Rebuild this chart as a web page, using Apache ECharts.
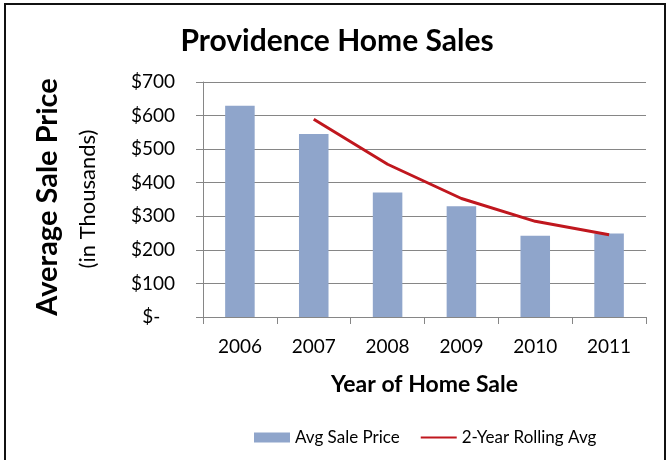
<!DOCTYPE html>
<html><head><meta charset="utf-8">
<script src="https://cdn.jsdelivr.net/npm/echarts@6/dist/echarts.min.js"></script>
<style>html,body{margin:0;padding:0;background:#fff}#c{width:666px;height:460px}</style>
</head><body><div id="c"></div>
<script>
var years = ['2006','2007','2008','2009','2010','2011'];
var avgSalePrice = [629, 545, 371, 330, 242, 249];
var rollingAvg = ['-', 589, 455, 353, 285, 245];
var yTicks = [0, 100, 200, 300, 400, 500, 600, 700];

var FONT = 'Lato';
var chart = echarts.init(document.getElementById('c'), null, {renderer:'canvas'});
chart.setOption({
  backgroundColor: '#fff',
  animation: false,
  textStyle: {fontFamily: FONT},
  title: {
    text: 'Providence Home Sales', left: 332, top: 21, textAlign: 'center',
    textStyle: {fontFamily: FONT, fontWeight: 'bold', fontSize: 30, color: '#000'}
  },
  grid: {left: 203, right: 20, top: 82, bottom: 143, containLabel: false},
  legend: {
    top: 424, left: 249, itemWidth: 36, itemHeight: 10, itemGap: 20,
    textStyle: {fontFamily: FONT, fontSize: 17, color: '#000'},
    data: [
      {name: 'Avg Sale Price', icon: 'rect'},
      {name: '2-Year Rolling Avg', itemStyle: {opacity: 0, borderWidth: 0}}
    ]
  },
  graphic: [
    {type: 'rect', shape: {x: 5, y: 4, width: 660, height: 470}, style: {fill: null, stroke: '#111', lineWidth: 2}, silent: true},
    {type: 'text', x: 48, y: 197, rotation: Math.PI/2,
     style: {text: 'Average Sale Price', align: 'center', verticalAlign: 'middle', fontFamily: FONT, fontWeight: 'bold', fontSize: 29, fill: '#000'}},
    {type: 'text', x: 88, y: 199, rotation: Math.PI/2,
     style: {text: '(in Thousands)', align: 'center', verticalAlign: 'middle', fontFamily: FONT, fontSize: 22, fill: '#000'}}
  ],
  xAxis: {
    type: 'category', data: years,
    name: 'Year of Home Sale', nameLocation: 'middle', nameGap: 56,
    nameTextStyle: {fontFamily: FONT, fontWeight: 'bold', fontSize: 23, color: '#000'},
    axisLine: {lineStyle: {color: '#868686', width: 1}},
    axisTick: {show: true, length: 7, lineStyle: {color: '#868686'}},
    axisLabel: {fontFamily: FONT, fontSize: 19, color: '#000', margin: 20}
  },
  yAxis: {
    type: 'value', min: 0, max: 700, interval: 100,
    axisLine: {show: true, lineStyle: {color: '#868686', width: 1}},
    axisTick: {show: true, length: 7, lineStyle: {color: '#868686'}},
    splitLine: {lineStyle: {color: '#868686', width: 1}},
    axisLabel: {
      fontFamily: FONT, fontSize: 19, color: '#000', margin: 28,
      formatter: function (v) { return v === 0 ? '$-   ' : '$' + v; }
    }
  },
  series: [
    {name: 'Avg Sale Price', type: 'bar', data: avgSalePrice, barWidth: '40%',
     itemStyle: {color: '#8FA5CB'}},
    {name: '2-Year Rolling Avg', type: 'line', data: rollingAvg, symbol: 'none',
     lineStyle: {color: '#C0171E', width: 3}, itemStyle: {color: '#C0171E'}}
  ]
});
</script></body></html>
